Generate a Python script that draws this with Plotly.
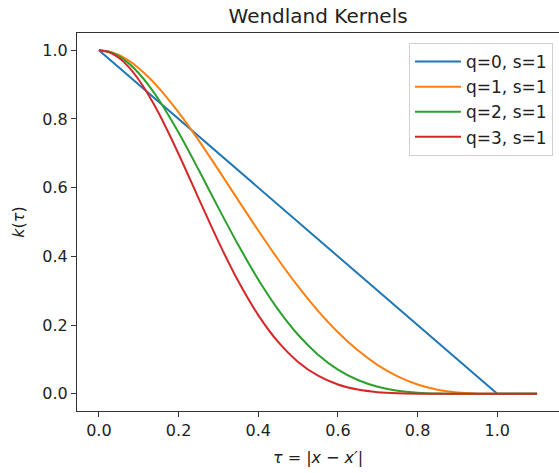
import plotly.graph_objects as go

tau = [0.0, 0.025, 0.05, 0.075, 0.1, 0.125, 0.15, 0.2, 0.25, 0.3, 0.35, 0.4, 0.45, 0.5, 0.55,
       0.6, 0.65, 0.7, 0.75, 0.8, 0.85, 0.9, 0.95, 1.0, 1.05, 1.1]

k_q0 = [1.0, 0.975, 0.95, 0.925, 0.9, 0.875, 0.85, 0.8, 0.75, 0.7, 0.65, 0.6, 0.55, 0.5, 0.45,
        0.4, 0.35, 0.3, 0.25, 0.2, 0.15, 0.1, 0.05, 0.0, 0.0, 0.0]
k_q1 = [1.0, 0.9964, 0.986, 0.9695, 0.9477, 0.9211, 0.8905, 0.8192, 0.7383, 0.6517, 0.5630,
        0.4752, 0.3910, 0.3125, 0.2415, 0.1792, 0.1265, 0.0837, 0.0508, 0.0272,
        0.0120, 0.0037, 0.0005, 0.0, 0.0, 0.0]
k_q2 = [1.0, 0.9956, 0.9827, 0.9616, 0.9330, 0.8976, 0.8564, 0.7602, 0.6526, 0.5412, 0.4328,
        0.3328, 0.2451, 0.1719, 0.1139, 0.0705, 0.0401, 0.0205, 0.0090, 0.0032,
        0.0008, 0.0001, 0.0, 0.0, 0.0, 0.0]
k_q3 = [1.0, 0.9944, 0.9778, 0.9507, 0.9140, 0.8690, 0.8170, 0.6979, 0.5694, 0.4428, 0.3274,
        0.2291, 0.1509, 0.0928, 0.0527, 0.0272, 0.0125, 0.0049, 0.0016, 0.0004,
        0.0001, 0.0, 0.0, 0.0, 0.0, 0.0]

labels = ["q=0, s=1", "q=1, s=1", "q=2, s=1", "q=3, s=1"]
colors = ["#1f77b4", "#ff7f0e", "#2ca02c", "#d62728"]
series = [k_q0, k_q1, k_q2, k_q3]

x_ticks = [0.0, 0.2, 0.4, 0.6, 0.8, 1.0]
y_ticks = [0.0, 0.2, 0.4, 0.6, 0.8, 1.0]

font = "DejaVu Sans"
fig = go.Figure()
for i, (lab, col, ys) in enumerate(zip(labels, colors, series)):
    fig.add_trace(go.Scatter(
        x=tau, y=ys, mode="lines", name=lab,
        line=dict(color=col, width=2, shape="linear" if i == 0 else "spline", smoothing=0.8),
    ))

axis_common = dict(
    showgrid=False, zeroline=False, showline=True, linecolor="#333", linewidth=1,
    ticks="outside", ticklen=5, tickwidth=1, tickcolor="#333",
    tickfont=dict(family=font, size=16, color="#222"),
)
fig.update_layout(
    width=559, height=473,
    margin=dict(l=77, r=0, t=33, b=62),
    paper_bgcolor="white", plot_bgcolor="white",
    title=dict(text="Wendland Kernels", x=0.569, xanchor="center", y=0.966, yanchor="middle",
               font=dict(family=font, size=20, color="#222")),
    xaxis=dict(range=[-0.055, 1.155], tickvals=x_ticks, ticktext=[f"{v:.1f}" for v in x_ticks],
               mirror=True,
               title=dict(text="<i>τ</i> = |<i>x</i> − <i>x′</i>|", font=dict(family=font, size=16, color="#222"),
                          standoff=12),
               **axis_common),
    yaxis=dict(range=[-0.05, 1.05], tickvals=y_ticks, ticktext=[f"{v:.1f}" for v in y_ticks],
               mirror=False,
               title=dict(text="<i>k</i>(<i>τ</i>)", font=dict(family=font, size=16, color="#222"),
                          standoff=13),
               **axis_common),
    legend=dict(x=0.9875, y=0.9735, xanchor="right", yanchor="top",
                bgcolor="rgba(255,255,255,0.8)", bordercolor="#d0d0d0", borderwidth=1,
                itemwidth=46,
                font=dict(family=font, size=17, color="#222"), tracegroupgap=0),
    showlegend=True,
)

fig.write_html("out.html")
